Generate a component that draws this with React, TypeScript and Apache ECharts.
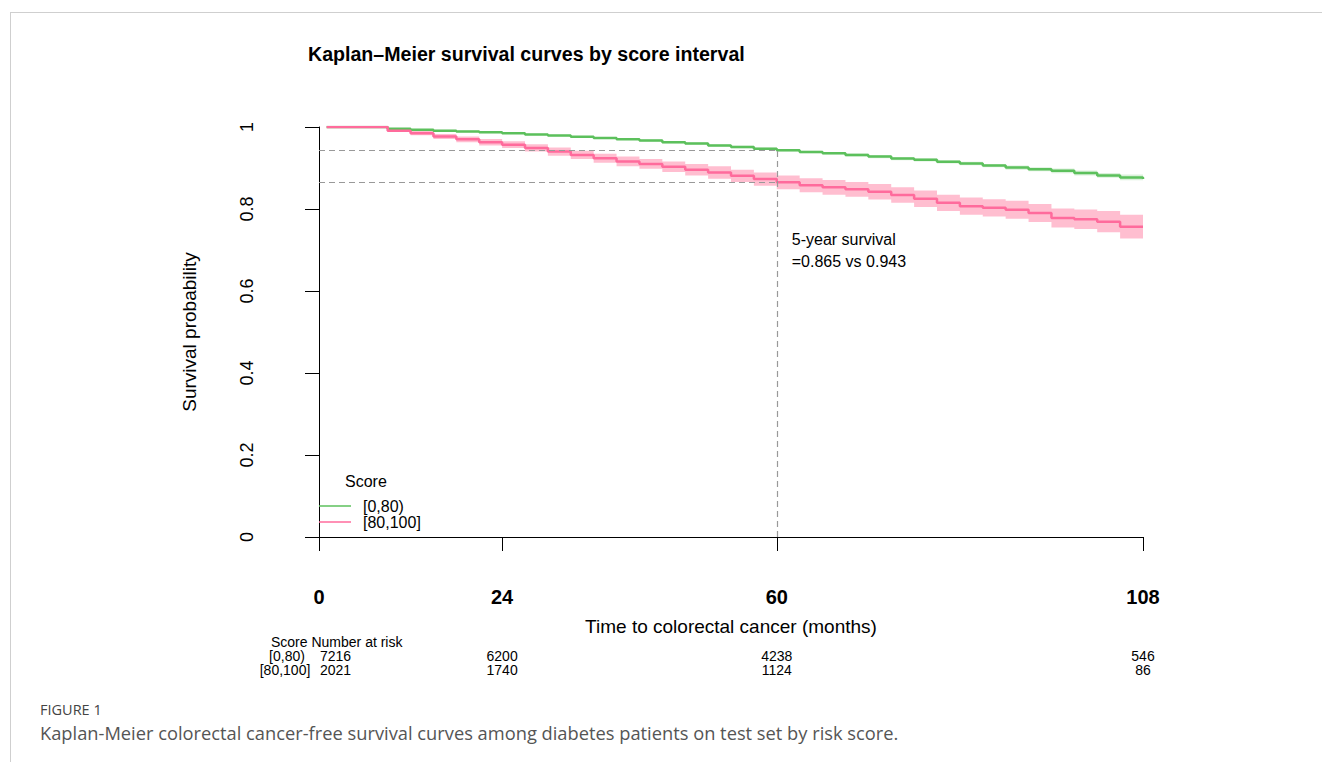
import React, { useEffect, useRef } from 'react';
import * as echarts from 'echarts';

// Time points (months) at which the step curves were read
const times = [1, 6, 9, 12, 15, 18, 21, 24, 27, 30, 33, 36, 39, 42, 45, 48, 51, 54, 57, 60, 63, 66, 69, 72, 75, 78, 81, 84, 87, 90, 93, 96, 99, 102, 105, 108];

// Score [0,80)
const survLow = [1.0, 1.0, 0.996, 0.993, 0.991, 0.989, 0.987, 0.985, 0.982, 0.979, 0.976, 0.973, 0.970, 0.967, 0.963, 0.960, 0.955, 0.951, 0.947, 0.943, 0.939, 0.936, 0.932, 0.928, 0.923, 0.920, 0.915, 0.911, 0.906, 0.901, 0.897, 0.893, 0.888, 0.882, 0.877, 0.873];
const upperLow = [1.0, 1.0, 0.997, 0.994, 0.993, 0.991, 0.989, 0.987, 0.984, 0.981, 0.978, 0.975, 0.972, 0.970, 0.966, 0.963, 0.958, 0.954, 0.950, 0.946, 0.942, 0.939, 0.936, 0.932, 0.927, 0.924, 0.919, 0.915, 0.910, 0.906, 0.902, 0.899, 0.894, 0.888, 0.884, 0.880];
const lowerLow = [1.0, 1.0, 0.995, 0.992, 0.989, 0.987, 0.985, 0.983, 0.980, 0.977, 0.974, 0.971, 0.968, 0.964, 0.960, 0.957, 0.952, 0.948, 0.944, 0.940, 0.936, 0.933, 0.928, 0.924, 0.919, 0.916, 0.911, 0.907, 0.902, 0.896, 0.892, 0.887, 0.882, 0.876, 0.870, 0.866];

// Score [80,100]
const survHigh = [1.0, 1.0, 0.991, 0.985, 0.977, 0.970, 0.963, 0.957, 0.949, 0.940, 0.932, 0.924, 0.916, 0.910, 0.903, 0.896, 0.889, 0.881, 0.873, 0.865, 0.858, 0.853, 0.848, 0.842, 0.834, 0.825, 0.815, 0.807, 0.803, 0.798, 0.790, 0.778, 0.775, 0.769, 0.757, 0.757];
const upperHigh = [1.0, 1.0, 0.994, 0.990, 0.983, 0.977, 0.971, 0.965, 0.958, 0.950, 0.942, 0.935, 0.928, 0.922, 0.916, 0.910, 0.904, 0.896, 0.889, 0.882, 0.875, 0.871, 0.866, 0.861, 0.853, 0.845, 0.835, 0.828, 0.824, 0.820, 0.812, 0.801, 0.799, 0.795, 0.786, 0.786];
const lowerHigh = [1.0, 1.0, 0.988, 0.980, 0.971, 0.963, 0.955, 0.949, 0.940, 0.930, 0.922, 0.913, 0.904, 0.898, 0.890, 0.882, 0.874, 0.866, 0.857, 0.848, 0.841, 0.835, 0.830, 0.823, 0.815, 0.805, 0.795, 0.786, 0.782, 0.776, 0.768, 0.755, 0.751, 0.743, 0.728, 0.728];

const groupNames = ['[0,80)', '[80,100]'];
const xTicks = [0, 24, 60, 108];

const fiveYearTime = 60;
const fiveYearLow = 0.943;
const fiveYearHigh = 0.865;

const riskTimes = [0, 24, 60, 108];
const riskLow = [7216, 6200, 4238, 546];
const riskHigh = [2021, 1740, 1124, 86];

const GREEN = '#5CC05C';
const PINK = '#FF6B9C';
const FONT = "'Liberation Sans', Arial, Helvetica, sans-serif";
const CAPTION_FONT = "'Open Sans', 'Noto Sans', sans-serif";

function bandRenderer(upper: number[], lower: number[], fill: string) {
  return (params: any, api: any) => {
    const pts: number[][] = [];
    const n = times.length;
    for (let i = 0; i < n; i++) {
      const x1 = i < n - 1 ? times[i + 1] : times[i];
      pts.push(api.coord([times[i], upper[i]]));
      pts.push(api.coord([x1, upper[i]]));
    }
    for (let i = n - 1; i >= 0; i--) {
      const x1 = i < n - 1 ? times[i + 1] : times[i];
      pts.push(api.coord([x1, lower[i]]));
      pts.push(api.coord([times[i], lower[i]]));
    }
    return { type: 'polygon', shape: { points: pts }, style: { fill } };
  };
}

export default function App() {
  const ref = useRef<HTMLDivElement>(null);
  useEffect(() => {
    if (!ref.current) return;
    const chart = echarts.init(ref.current, null, { renderer: 'svg' });
    const option: any = {
      animation: false,
      backgroundColor: '#fff',
      title: {
        text: 'Kaplan\u2013Meier survival curves by score interval',
        left: 308,
        top: 44,
        padding: 0,
        textStyle: { fontSize: 19.6, fontWeight: 'bold', color: '#000', fontFamily: FONT },
      },
      legend: {
        orient: 'vertical',
        left: 319,
        top: 498,
        padding: 0,
        itemGap: 0,
        itemWidth: 32,
        itemHeight: 1.5,
        icon: 'rect',
        data: groupNames,
        textStyle: { fontSize: 16, lineHeight: 16, color: '#000', fontFamily: FONT, padding: [0, 0, 0, 7] },
      },
      grid: { left: 319, right: 179, top: 127, bottom: 225 },
      xAxis: {
        type: 'value',
        min: 0,
        max: 108,
        offset: 17,
        name: 'Time to colorectal cancer (months)',
        nameLocation: 'middle',
        nameGap: 63,
        nameTextStyle: { fontSize: 19, color: '#000', fontFamily: FONT },
        axisLine: { show: true, lineStyle: { color: '#000', width: 1 } },
        axisTick: { show: true, length: 14, customValues: xTicks, lineStyle: { color: '#000' } },
        axisLabel: { customValues: xTicks, margin: 33, fontSize: 20, color: '#000', fontFamily: FONT, fontWeight: 'bold' },
        splitLine: { show: false },
      },
      yAxis: {
        type: 'value',
        min: 0,
        max: 1,
        interval: 0.2,
        offset: 32,
        name: 'Survival probability',
        nameLocation: 'middle',
        nameRotate: 90,
        nameGap: 88,
        nameTextStyle: { fontSize: 19, color: '#000', fontFamily: FONT },
        axisLine: { show: true, lineStyle: { color: '#000', width: 1 } },
        axisTick: { show: true, length: 14, lineStyle: { color: '#000' } },
        axisLabel: { rotate: 90, margin: 31, fontSize: 18, color: '#000', fontFamily: FONT },
        splitLine: { show: false },
      },
      series: [
        {
          type: 'custom',
          name: 'band-low',
          silent: true,
          z: 1,
          data: [[0, 0]],
          renderItem: bandRenderer(upperLow, lowerLow, 'rgba(92,192,92,0.22)'),
        },
        {
          type: 'custom',
          name: 'band-high',
          silent: true,
          z: 1,
          data: [[0, 0]],
          renderItem: bandRenderer(upperHigh, lowerHigh, 'rgba(255,110,150,0.45)'),
        },
        {
          type: 'line',
          name: groupNames[0],
          step: 'end',
          showSymbol: false,
          symbol: 'none',
          z: 3,
          color: GREEN,
          lineStyle: { color: GREEN, width: 2.5 },
          data: times.map((t, i) => [t, survLow[i]]),
        },
        {
          type: 'line',
          name: groupNames[1],
          step: 'end',
          showSymbol: false,
          symbol: 'none',
          z: 3,
          color: PINK,
          lineStyle: { color: PINK, width: 2.5 },
          data: times.map((t, i) => [t, survHigh[i]]),
          markLine: {
            silent: true,
            symbol: 'none',
            label: { show: false },
            lineStyle: { color: '#999', type: [6, 4], width: 1.2 },
            data: [
              [{ coord: [0, fiveYearLow] }, { coord: [fiveYearTime, fiveYearLow] }],
              [{ coord: [0, fiveYearHigh] }, { coord: [fiveYearTime, fiveYearHigh] }],
              [{ coord: [fiveYearTime, 0] }, { coord: [fiveYearTime, fiveYearLow] }],
            ],
          },
        },
      ],
    };
    chart.setOption(option);

    const px = (t: number) => chart.convertToPixel({ xAxisIndex: 0 }, t) as number;
    const py = (v: number) => chart.convertToPixel({ yAxisIndex: 0 }, v) as number;
    const tableFont = { fontSize: 14, fill: '#000', fontFamily: FONT };
    const graphics: any[] = [];
    // frame
    graphics.push({ type: 'line', shape: { x1: 10, y1: 12.5, x2: 1322, y2: 12.5 }, style: { stroke: '#cfcfcf', lineWidth: 1 } });
    graphics.push({ type: 'line', shape: { x1: 10.5, y1: 12, x2: 10.5, y2: 762 }, style: { stroke: '#cfcfcf', lineWidth: 1 } });
    // annotation
    graphics.push({
      type: 'text', x: px(fiveYearTime) + 15, y: py(0.70),
      style: { text: '5-year survival\n=' + fiveYearHigh.toFixed(3) + ' vs ' + fiveYearLow.toFixed(3), fontSize: 16, lineHeight: 22, fill: '#000', fontFamily: FONT, textVerticalAlign: 'middle' },
    });
    // legend title
    graphics.push({ type: 'text', x: 345, y: 481, style: { text: 'Score', fontSize: 16, fill: '#000', fontFamily: FONT, textVerticalAlign: 'middle' } });
    // risk table
    const rowY = [642, 656, 670];
    graphics.push({ type: 'text', x: 271, y: rowY[0], style: { ...tableFont, text: 'Score Number at risk', textVerticalAlign: 'middle' } });
    graphics.push({ type: 'text', x: 287, y: rowY[1], style: { ...tableFont, text: groupNames[0], textAlign: 'center', textVerticalAlign: 'middle' } });
    graphics.push({ type: 'text', x: 285, y: rowY[2], style: { ...tableFont, text: groupNames[1], textAlign: 'center', textVerticalAlign: 'middle' } });
    riskTimes.forEach((t, i) => {
      const first = i === 0;
      const x = first ? px(t) + 1 : px(t);
      const align = first ? 'left' : 'center';
      graphics.push({ type: 'text', x, y: rowY[1], style: { ...tableFont, text: String(riskLow[i]), textAlign: align, textVerticalAlign: 'middle' } });
      graphics.push({ type: 'text', x, y: rowY[2], style: { ...tableFont, text: String(riskHigh[i]), textAlign: align, textVerticalAlign: 'middle' } });
    });
    // caption
    graphics.push({ type: 'text', x: 40, y: 709, style: { text: 'FIGURE 1', fontSize: 14.5, fill: '#444', fontFamily: CAPTION_FONT, textVerticalAlign: 'middle' } });
    graphics.push({
      type: 'text', x: 40, y: 732,
      style: { text: 'Kaplan-Meier colorectal cancer-free survival curves among diabetes patients on test set by risk score.', fontSize: 18.3, fill: '#555', fontFamily: CAPTION_FONT, textVerticalAlign: 'middle' },
    });
    chart.setOption({ graphic: graphics });

    return () => chart.dispose();
  }, []);
  return <div ref={ref} style={{ position: 'absolute', left: 0, top: 0, width: 1322, height: 762 }} />;
}
